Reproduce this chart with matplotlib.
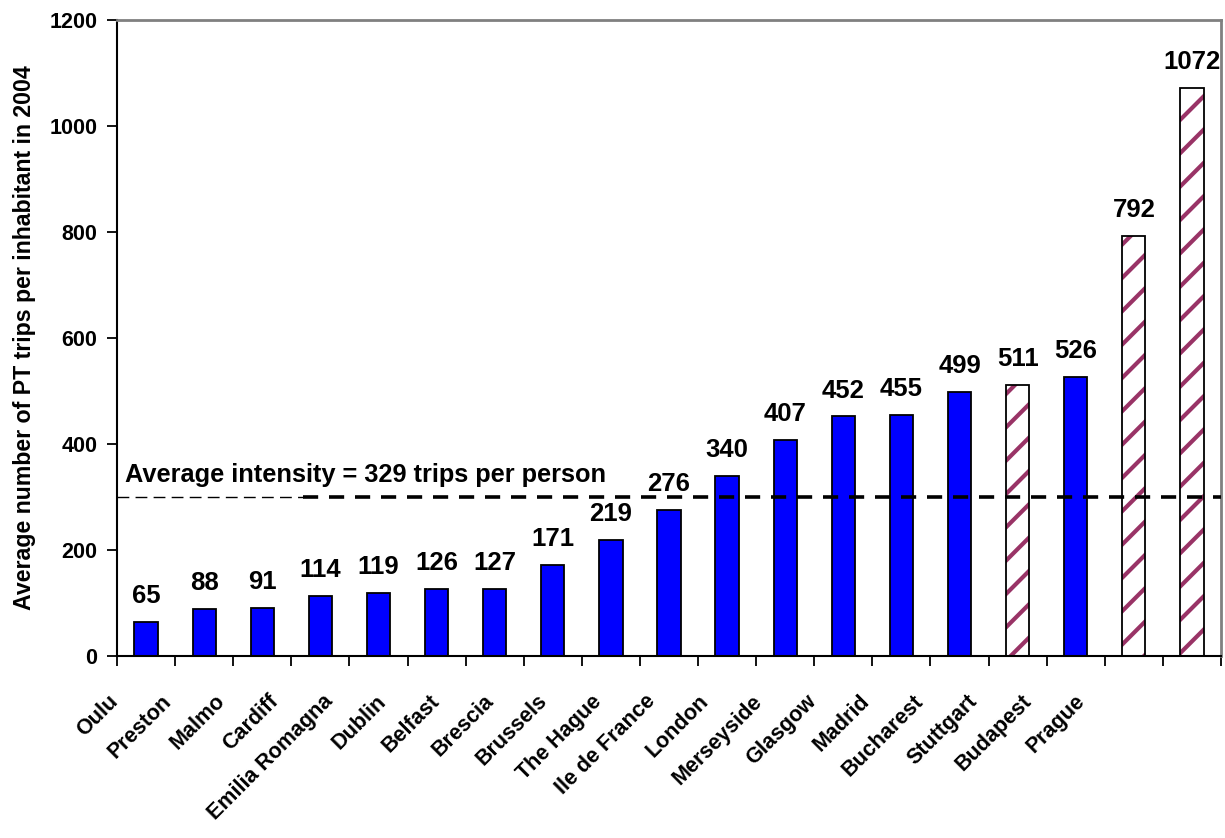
import numpy as np
import matplotlib
matplotlib.use('Agg')
import matplotlib.pyplot as plt

# data
cities = ['Oulu', 'Preston', 'Malmo', 'Cardiff', 'Emilia Romagna', 'Dublin',
          'Belfast', 'Brescia', 'Brussels', 'The Hague', 'Ile de France',
          'London', 'Merseyside', 'Glasgow', 'Madrid', 'Bucharest',
          'Stuttgart', 'Budapest', 'Prague']
trips = [65, 88, 91, 114, 119, 126, 127, 171, 219, 276, 340, 407, 452,
         455, 499, 511, 526, 792, 1072]
hatched = ['Bucharest', 'Budapest', 'Prague']
avg_level = 300
avg_text = 'Average intensity = 329 trips per person'
y_ticks = [0, 200, 400, 600, 800, 1000, 1200]

plt.rcParams['font.family'] = ['Liberation Sans', 'DejaVu Sans']
plt.rcParams['font.weight'] = 'bold'
plt.rcParams['hatch.linewidth'] = 3.0

fig = plt.figure(figsize=(12.25, 8.38), dpi=100)
ax = fig.add_axes([117/1225, 1 - 656/838, (1221 - 117)/1225, (656 - 20)/838])

n = len(cities)
for i, (c, v) in enumerate(zip(cities, trips)):
    if c in hatched:
        # hatch drawn in maroon, outline drawn separately in black
        ax.bar(i, v, width=0.4, color='white', edgecolor='#993366',
               hatch='/', linewidth=0, zorder=2)
        ax.bar(i, v, width=0.4, fill=False, edgecolor='black',
               linewidth=1.3, zorder=2)
    else:
        ax.bar(i, v, width=0.4, color='#0000FF', edgecolor='black',
               linewidth=1.3, zorder=2)
    ax.annotate(str(v), (i, v), xytext=(0, 10), textcoords='offset points',
                ha='center', va='bottom', fontsize=18.5, fontweight='bold')

ax.set_xlim(-0.5, n - 0.5)
ax.set_ylim(0, 1200)

# average line: thin part on the left, thick part on the right
split = 2.7
frac = (split + 0.5) / n
ax.axhline(avg_level, xmin=0, xmax=frac, color='black', lw=1.0,
           dashes=(8.5, 4.5), zorder=3)
ax.axhline(avg_level, xmin=frac, xmax=1, color='black', lw=2.6,
           dashes=(4.2, 3.0), zorder=3)
ax.annotate(avg_text, (0, avg_level), xycoords=('axes fraction', 'data'),
            xytext=(6, 11), textcoords='offset points', fontsize=18.3,
            fontweight='bold', va='baseline', ha='left')

# axes
ax.set_yticks(y_ticks)
ax.set_xticks(np.arange(-0.5, n, 1))
ax.set_xticklabels([])
ax.tick_params(axis='y', direction='out', length=7, width=1.3, labelsize=15.5, pad=7)
ax.tick_params(axis='x', direction='out', length=7, width=1.3)
ax.spines['left'].set_linewidth(1.5)
ax.spines['bottom'].set_linewidth(1.5)
ax.spines['top'].set_color('#808080')
ax.spines['right'].set_color('#808080')
ax.spines['top'].set_linewidth(2)
ax.spines['right'].set_linewidth(2)
ax.set_ylabel('Average number of PT trips per inhabitant in 2004',
              fontsize=16.7, fontweight='bold', labelpad=10)

# category labels, rotated like the original
label_x = np.arange(n) * 0.925 - 0.67
for lx, c in zip(label_x, cities):
    ax.annotate(c, (lx, 0), xycoords=('data', 'axes fraction'),
                xytext=(0, -25), textcoords='offset points',
                rotation=45, rotation_mode='anchor', ha='right', va='top',
                fontsize=15.5, fontweight='bold')

fig.savefig('out.png', dpi=100)
